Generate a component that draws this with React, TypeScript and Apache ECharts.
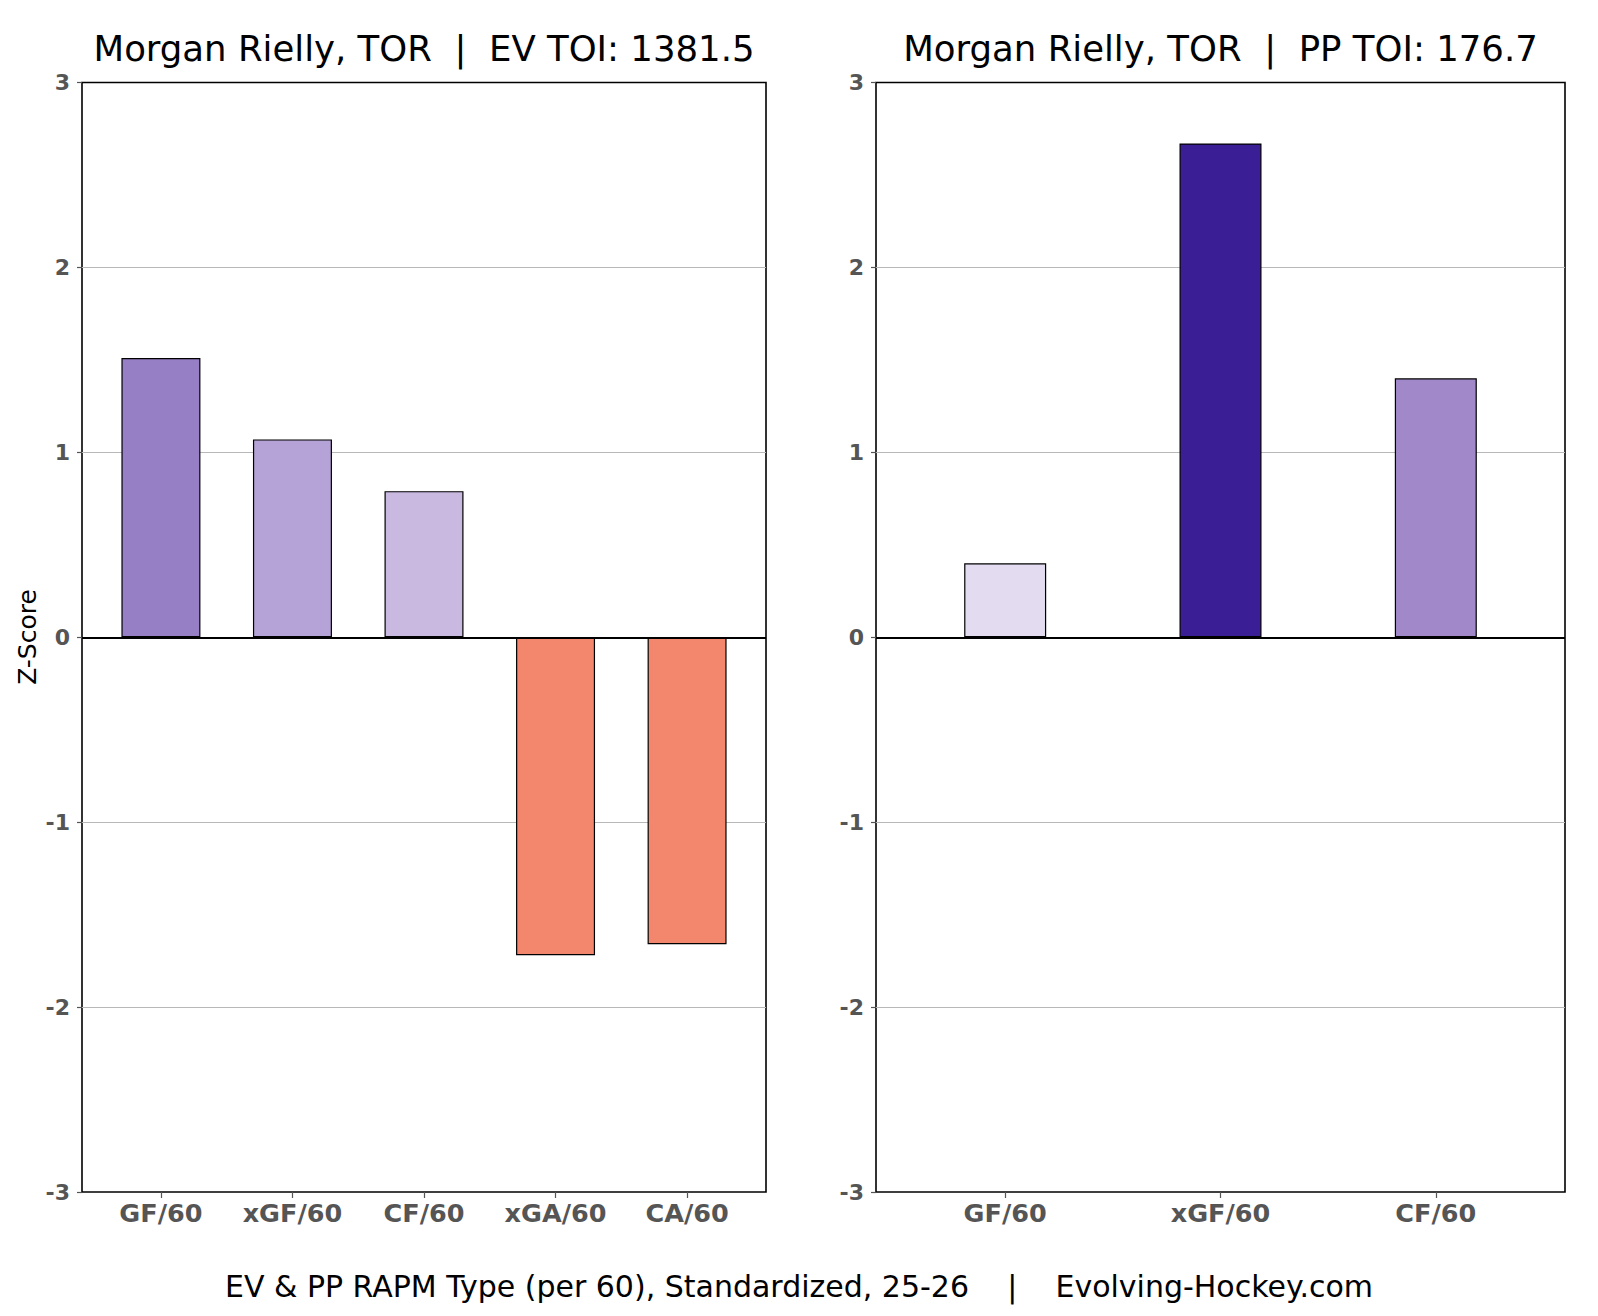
import React, { useEffect, useRef } from "react";
import * as echarts from "echarts";

const EV_CATEGORIES = ["GF/60", "xGF/60", "CF/60", "xGA/60", "CA/60"];
const EV_VALUES = [1.51, 1.07, 0.79, -1.72, -1.66];
const EV_COLORS = ["#977fc5", "#b5a2d7", "#c9b9e0", "#f2876e", "#f2876e"];

const PP_CATEGORIES = ["GF/60", "xGF/60", "CF/60"];
const PP_VALUES = [0.4, 2.67, 1.4];
const PP_COLORS = ["#e3dbef", "#391e96", "#a088c9"];

const Y_MIN = -3;
const Y_MAX = 3;
const Y_INTERVAL = 1;

const EV_TITLE = "Morgan Rielly, TOR  |  EV TOI: 1381.5";
const PP_TITLE = "Morgan Rielly, TOR  |  PP TOI: 176.7";
const Y_NAME = "Z-Score";
const CAPTION = "EV & PP RAPM Type (per 60), Standardized, 25-26    |    Evolving-Hockey.com";

const FONT = "DejaVu Sans";
const TICK_COLOR = "#555555";

const W = 1598;
const H = 1316;
const GRID_TOP = 82.5;
const GRID_HEIGHT = 1109.5;
const LEFT_GRID = { left: 82, width: 684 };
const RIGHT_GRID = { left: 876, width: 689 };

function xAxisFor(gridIndex: number, cats: string[]) {
  const idx = cats.map((_, i) => i);
  return {
    type: "value",
    gridIndex,
    position: "bottom",
    min: -0.6,
    max: cats.length - 1 + 0.6,
    axisLine: { show: false, onZero: false },
    splitLine: { show: false },
    axisTick: {
      show: true,
      customValues: idx,
      length: 6,
      lineStyle: { color: TICK_COLOR, width: 1.2 },
    },
    axisLabel: {
      show: true,
      customValues: idx,
      margin: 8,
      color: TICK_COLOR,
      fontFamily: FONT,
      fontWeight: "bold",
      fontSize: 25.5,
      formatter: (v: number) => EV_CATEGORIES && cats[Math.round(v)] ? cats[Math.round(v)] : "",
    },
  };
}

function yAxisFor(gridIndex: number) {
  return {
    type: "value",
    gridIndex,
    position: "left",
    min: Y_MIN,
    max: Y_MAX,
    interval: Y_INTERVAL,
    axisLine: { show: false, onZero: false },
    axisTick: {
      show: true,
      length: 5,
      lineStyle: { color: TICK_COLOR, width: 1.2 },
    },
    axisLabel: {
      show: true,
      margin: 12,
      color: TICK_COLOR,
      fontFamily: FONT,
      fontWeight: "bold",
      fontSize: 22,
      formatter: (v: number) => String(v),
    },
    splitLine: {
      show: true,
      showMinLine: false,
      showMaxLine: false,
      lineStyle: { color: "#b8b8b8", width: 1 },
    },
  };
}

function barSeries(idx: number, values: number[], colors: string[], barWidth: number) {
  return {
    type: "bar",
    xAxisIndex: idx,
    yAxisIndex: idx,
    barWidth,
    data: values.map((v, i) => ({
      value: [i, v],
      itemStyle: { color: colors[i], borderColor: "#000", borderWidth: 1.2 },
    })),
    markLine: {
      silent: true,
      symbol: ["none", "none"],
      label: { show: false },
      lineStyle: { color: "#000", width: 1.8, type: "solid" },
      data: [{ yAxis: 0 }],
      animation: false,
    },
  };
}

export default function App() {
  const ref = useRef<HTMLDivElement>(null);

  useEffect(() => {
    if (!ref.current) return;
    const chart = echarts.init(ref.current, null, { renderer: "svg" });
    const gridCommon = {
      top: GRID_TOP,
      height: GRID_HEIGHT,
      show: true,
      backgroundColor: "transparent",
      borderColor: "#000",
      borderWidth: 1.6,
      containLabel: false,
    };
    chart.setOption({
      animation: false,
      backgroundColor: "#ffffff",
      textStyle: { fontFamily: FONT },
      grid: [
        { ...gridCommon, left: LEFT_GRID.left, width: LEFT_GRID.width },
        { ...gridCommon, left: RIGHT_GRID.left, width: RIGHT_GRID.width },
      ],
      xAxis: [xAxisFor(0, EV_CATEGORIES), xAxisFor(1, PP_CATEGORIES)],
      yAxis: [yAxisFor(0), yAxisFor(1)],
      series: [
        barSeries(0, EV_VALUES, EV_COLORS, 79),
        barSeries(1, PP_VALUES, PP_COLORS, 82),
      ],
      graphic: [
        {
          type: "text",
          x: LEFT_GRID.left + LEFT_GRID.width / 2,
          y: 48,
          style: {
            text: EV_TITLE,
            fill: "#000",
            font: `35.5px "${FONT}"`,
            align: "center",
            verticalAlign: "middle",
          },
        },
        {
          type: "text",
          x: RIGHT_GRID.left + RIGHT_GRID.width / 2,
          y: 48,
          style: {
            text: PP_TITLE,
            fill: "#000",
            font: `35.5px "${FONT}"`,
            align: "center",
            verticalAlign: "middle",
          },
        },
        {
          type: "text",
          x: 27,
          y: 637,
          rotation: Math.PI / 2,
          style: {
            text: Y_NAME,
            fill: "#000",
            font: `25px "${FONT}"`,
            align: "center",
            verticalAlign: "middle",
          },
        },
        {
          type: "text",
          x: W / 2,
          y: 1286,
          style: {
            text: CAPTION,
            fill: "#000",
            font: `30px "${FONT}"`,
            align: "center",
            verticalAlign: "middle",
          },
        },
      ],
    });
    return () => chart.dispose();
  }, []);

  return (
    <div
      ref={ref}
      style={{ position: "absolute", left: 0, top: 0, width: W, height: H }}
    />
  );
}
